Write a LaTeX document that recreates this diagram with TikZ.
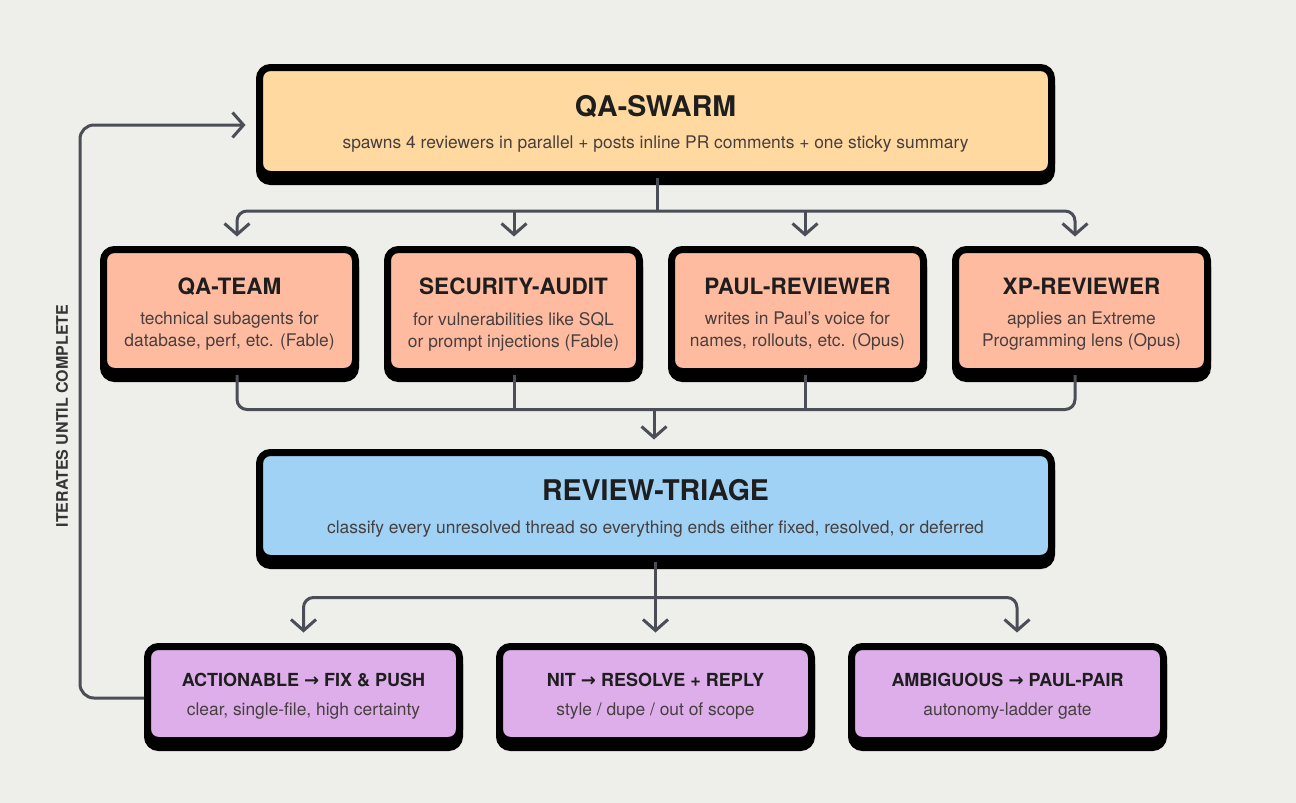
\documentclass[tikz,border=0pt]{standalone}
\usepackage{fontspec}
\setmainfont{TeX Gyre Heros}
\newfontfamily\symfont{DejaVu Sans}
\usetikzlibrary{arrows.meta,shadows,calc}

\definecolor{bg}{HTML}{EEEEEA}
\definecolor{swarmfill}{HTML}{FFD9A0}
\definecolor{revfill}{HTML}{FFBBA0}
\definecolor{triagefill}{HTML}{A0D2F5}
\definecolor{outfill}{HTML}{DDAEEA}
\definecolor{wire}{HTML}{4B4E56}
\definecolor{ink}{HTML}{1E1E1E}
\definecolor{subink}{HTML}{463F3F}

\newcommand{\rarr}{{\symfont\bfseries\char"2192}}

\begin{document}
\begin{tikzpicture}[x=1pt,y=-1pt,
  >={Straight Barb[length=11pt,width=25pt]},
  card/.style={draw=black, line width=7pt, rounded corners=11pt, inner sep=0pt,
    general shadow={fill=black, draw=black, line width=7pt, shadow yshift=-7pt}},
  wide/.style={card, minimum width=792pt},
  revbox/.style={card, fill=revfill, minimum width=252pt, minimum height=122pt},
  outbox/.style={card, fill=outfill, minimum width=312pt, minimum height=94pt},
  bigtitle/.style={font=\bfseries\fontsize{28.5}{32}\selectfont, text=ink, anchor=base, inner sep=0pt},
  midtitle/.style={font=\bfseries\fontsize{22.5}{26}\selectfont, text=ink, anchor=base, inner sep=0pt},
  smalltitle/.style={font=\bfseries\fontsize{18}{20}\selectfont, text=ink, anchor=base, inner sep=0pt},
  subtext/.style={font=\fontsize{17.4}{22}\selectfont, text=subink, align=center, inner sep=0pt},
  conn/.style={draw=wire, line width=3pt},
  wirebend/.style={conn, rounded corners=10pt}]

% canvas
\fill[bg] (0,0) rectangle (1296,803);
\useasboundingbox (0,0) rectangle (1296,803);

% boxes
\node[wide, fill=swarmfill, minimum height=107pt] (swarm) at (655.5,121) {};
\node[revbox] (qa)   at (229.5,310.5) {};
\node[revbox] (sec)  at (513.5,310.5) {};
\node[revbox] (paul) at (797.5,310.5) {};
\node[revbox] (xp)   at (1081.5,310.5) {};
\node[wide, fill=triagefill, minimum height=106pt] (triage) at (655.5,505.5) {};
\node[outbox] (act) at (303.5,693.5) {};
\node[outbox] (nit) at (655.5,693.5) {};
\node[outbox] (amb) at (1007.5,693.5) {};

% box texts
\node[bigtitle] (swarmT) at ($(swarm.center)+(0,-5)$) {QA-SWARM};
\node[subtext, anchor=base] (swarmS) at ($(swarm.center)+(0,27)$)
  {spawns 4 reviewers in parallel + posts inline PR comments + one sticky summary};

\node[midtitle] (qaT)   at ($(qa.center)+(0,-16.5)$)   {QA-TEAM};
\node[midtitle] (secT)  at ($(sec.center)+(0,-16.5)$)  {SECURITY-AUDIT};
\node[midtitle] (paulT) at ($(paul.center)+(0,-16.5)$) {PAUL-REVIEWER};
\node[midtitle] (xpT)   at ($(xp.center)+(0,-16.5)$)   {XP-REVIEWER};
\node[subtext] (qaS)   at ($(qa.center)+(0,21)$)   {technical subagents for\\database, perf, etc. (Fable)};
\node[subtext] (secS)  at ($(sec.center)+(0,21)$)  {for vulnerabilities like SQL\\or prompt injections (Fable)};
\node[subtext] (paulS) at ($(paul.center)+(0,21)$) {writes in Paul's voice for\\names, rollouts, etc. (Opus)};
\node[subtext] (xpS)   at ($(xp.center)+(0,21)$)   {applies an Extreme\\Programming lens (Opus)};

\node[bigtitle] (triageT) at ($(triage.center)+(0,-5)$) {REVIEW-TRIAGE};
\node[subtext, anchor=base] (triageS) at ($(triage.center)+(0,27.5)$)
  {classify every unresolved thread so everything ends either fixed, resolved, or deferred};

\node[smalltitle] (actT) at ($(act.center)+(0,-7.5)$) {ACTIONABLE \rarr{} FIX \& PUSH};
\node[smalltitle] (nitT) at ($(nit.center)+(0,-7.5)$) {NIT \rarr{} RESOLVE + REPLY};
\node[smalltitle] (ambT) at ($(amb.center)+(0,-7.5)$) {AMBIGUOUS \rarr{} PAUL-PAIR};
\node[subtext, anchor=base] (actS) at ($(act.center)+(0,21.5)$) {clear, single-file, high certainty};
\node[subtext, anchor=base] (nitS) at ($(nit.center)+(0,21.5)$) {style / dupe / out of scope};
\node[subtext, anchor=base] (ambS) at ($(amb.center)+(0,21.5)$) {autonomy-ladder gate};

% fan-out from the swarm to the four reviewers
\draw[conn] ([xshift=1.5pt]swarm.south) -- ++(0,33) coordinate (fork);
\draw[wirebend, <->] ([xshift=7.5pt,yshift=9.5pt]qa.north) |- (fork) -| ([xshift=-6.5pt,yshift=9.5pt]xp.north);
\draw[conn, ->] ([xshift=0.5pt]sec.north |- fork) -- ([xshift=0.5pt,yshift=9.5pt]sec.north);
\draw[conn, ->] ([xshift=7.5pt]paul.north |- fork) -- ([xshift=7.5pt,yshift=9.5pt]paul.north);

% reviewers merge into triage
\coordinate (merge) at ($(triage.north)+(-1.5,-39.5)$);
\draw[wirebend] ([xshift=7.5pt]qa.south) |- (merge) -| ([xshift=-6.5pt]xp.south);
\draw[conn] ([xshift=0.5pt]sec.south) -- ([xshift=0.5pt]sec.south |- merge);
\draw[conn] ([xshift=7.5pt]paul.south) -- ([xshift=7.5pt]paul.south |- merge);
\draw[conn, ->] (merge) -- ([xshift=-1.5pt,yshift=9.5pt]triage.north);

% triage splits into three outcomes
\coordinate (split) at ($(triage.south)+(0,35.5)$);
\draw[conn, ->] (triage.south) -- ([yshift=10.5pt]nit.north);
\draw[wirebend, <->] ([yshift=10.5pt]act.north) |- (split) -| ([xshift=9.5pt,yshift=10.5pt]amb.north);

% loop back to the swarm
\coordinate (back) at ([xshift=-10.5pt,yshift=-4pt]swarm.west);
\coordinate (rail) at (80,400);
\draw[conn, rounded corners=14pt, ->] ([yshift=-4.5pt]act.west) -| (rail |- back) -- (back);
\node[rotate=90, font=\bfseries\fontsize{16}{18}\selectfont, text=ink!90] (looplbl) at (62,416) {ITERATES UNTIL COMPLETE};
\end{tikzpicture}
\end{document}
